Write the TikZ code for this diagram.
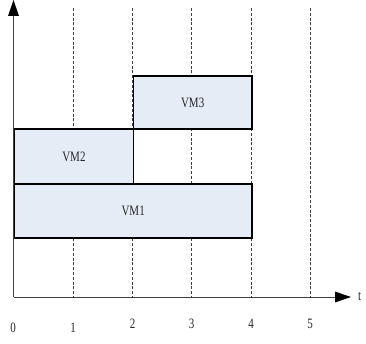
\documentclass[tikz,border=0pt]{standalone}
\usepackage{fontspec}
\setmainfont{Liberation Serif}
\definecolor{vmfill}{HTML}{E6ECF6}
\tikzset{
  gridline/.style={draw=black!75,line width=0.6pt,dash pattern=on 3pt off 1.8pt},
  axis/.style={draw=black!75,line width=0.8pt},
  head/.style={fill=black,draw=none},
  vmbox/.style={draw=black,line width=1.8pt,fill=vmfill,inner sep=0pt,anchor=north west},
  lbl/.style={font=\fontsize{11}{13}\selectfont,inner sep=0pt,yscale=1.3,transform shape,text=black!85}}
\begin{document}
\begin{tikzpicture}
\useasboundingbox (0,0) rectangle (366pt,343pt);
% grid lines
\foreach \i/\x in {1/73,2/132.5,3/191.5,4/251,5/310}{
  \coordinate (gt\i) at (\x pt,335pt);
  \coordinate (gb\i) at (\x pt,46pt);
  \draw[gridline] (gt\i) -- (gb\i);
}
% boxes
\node[vmbox,minimum width=237.5pt,minimum height=54pt] (vm1) at (13.5pt,160pt) {};
\node[vmbox,minimum width=119pt,minimum height=55pt] (vm2) at (13.5pt,215pt) {};
\node[vmbox,minimum width=118.5pt,minimum height=53pt] (vm3) at (132.5pt,268pt) {};
\node[lbl] (l1) at (vm1.center) {VM1};
\node[lbl] (l2) at (vm2.center) {VM2};
\node[lbl] (l3) at (vm3.center) {VM3};
% axes
\coordinate (o) at (13.5pt,46pt);
\coordinate (ytop) at (13.5pt,343pt);
\coordinate (xend) at (351pt,46pt);
\draw[axis] (o) -- ([yshift=-14pt]ytop);
\draw[axis] (o) -- ([xshift=-15pt]xend);
\fill[head] (ytop) -- ++(-5.5pt,-16pt) -- ++(11pt,0) -- cycle;
\fill[head] (xend) -- ++(-16pt,5.5pt) -- ++(0,-11pt) -- cycle;
\node[lbl,anchor=west] (t) at (358pt,46pt) {t};
% tick labels
\node[lbl] (n0) at (13pt,15pt) {0};
\node[lbl] (n1) at (73pt,15pt) {1};
\node[lbl] (n2) at (132.5pt,19pt) {2};
\node[lbl] (n3) at (191.5pt,19pt) {3};
\node[lbl] (n4) at (251pt,19pt) {4};
\node[lbl] (n5) at (310pt,19pt) {5};
\end{tikzpicture}
\end{document}
